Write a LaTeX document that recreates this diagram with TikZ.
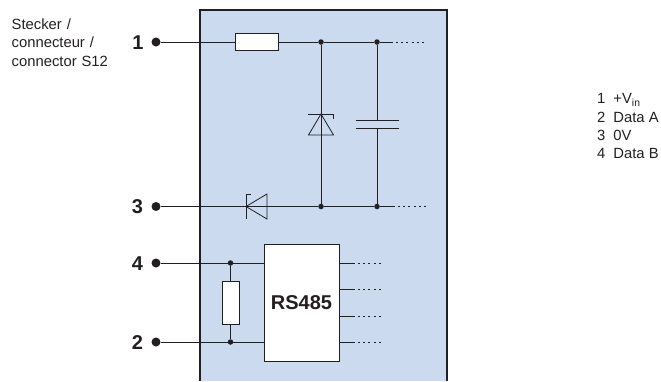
\documentclass[tikz,border=0pt]{standalone}
\usepackage{fontspec}
\setmainfont{Liberation Sans}
\definecolor{panel}{RGB}{203,218,239}
\definecolor{ink}{RGB}{35,31,32}
\tikzset{
  x=1pt,y=-1pt,
  wire/.style={draw=ink,line width=0.8pt},
  dotline/.style={draw=ink,line width=0.8pt,dash pattern=on 2pt off 3.2pt},
  pin/.style={circle,fill=ink,inner sep=0pt,minimum size=9pt},
  junction/.style={circle,fill=ink,inner sep=0pt,minimum size=5.5pt},
  pinlabel/.style={font=\bfseries\fontsize{20}{20}\selectfont,text=ink,anchor=center,inner sep=0pt},
  comp/.style={draw=ink,line width=0.9pt,fill=white,inner sep=0pt},
  note/.style={font=\fontsize{14.8}{18.3}\selectfont,text=ink,anchor=west,inner sep=0pt},
}
\begin{document}
\begin{tikzpicture}
\useasboundingbox (0,0) rectangle (661,381);
% panel
\fill[panel] (200,10) rectangle (447,381);
\draw[draw=ink,line width=1.4pt] (200,381) -- (200,10) -- (447,10) -- (447,381);
% labels
\node[note,text width=110pt,align=left,anchor=north west] (title) at (11.5,18.7) {Stecker /\\connecteur /\\connector S12};
\node[note] (n1) at (597,100) {1\hspace{8pt}+V\textsubscript{in}};
\node[note] (n2) at (597,117) {2\hspace{8pt}Data A};
\node[note] (n3) at (597,135) {3\hspace{8pt}0V};
\node[note] (n4) at (597,153) {4\hspace{8pt}Data B};
% terminals
\node[pin] (p1) at (156,42) {};
\node[pin] (p3) at (156,206.5) {};
\node[pin] (p4) at (156,263) {};
\node[pin] (p2) at (156,342) {};
\node[pinlabel] (l1) at (138,43) {1};
\node[pinlabel] (l3) at (137.5,207) {3};
\node[pinlabel] (l4) at (137.5,263.5) {4};
\node[pinlabel] (l2) at (137.5,342.5) {2};
% components
\node[comp,minimum width=43pt,minimum height=16.5pt] (r1) at (256.5,42) {};
\node[comp,minimum width=17pt,minimum height=43pt] (r2) at (230.5,302.5) {};
\node[comp,minimum width=75pt,minimum height=117pt,font=\bfseries\fontsize{20}{20}\selectfont,text=ink] (ic) at (301.5,302.5) {RS485};
\node[junction] (j1) at (321,42) {};
\node[junction] (j2) at (377,42) {};
\node[junction] (j3) at (321,206.5) {};
\node[junction] (j4) at (377,206.5) {};
\node[junction] (j5) at (230.5,263) {};
\node[junction] (j6) at (230.5,342) {};
\coordinate (e1) at (393,42);
\coordinate (e1b) at (425,42);
\coordinate (e3) at (395,206.5);
\coordinate (e3b) at (427,206.5);
\coordinate (icw4) at (264,263);
\coordinate (icw2) at (264,342);
\coordinate (cu) at (377,120.5);
\coordinate (cl) at (377,128);
% wires
\draw[wire] (p1) -- (r1);
\draw[wire] (r1) -- (j1) -- (j2) -- (e1);
\draw[dotline] (e1) ++(3,0) -- (e1b);
\draw[wire] (p3) -- (j3) -- (j4) -- (e3);
\draw[dotline] (e3) ++(3,0) -- (e3b);
\draw[wire] (j1) -- (j3);
\draw[wire] (j2) -- (cu);
\draw[wire] (cl) -- (j4);
\draw[wire] (356,120.5) -- (399,120.5);
\draw[wire] (356,128) -- (399,128);
% zener
\draw[wire,line join=miter] (321,114) -- (308.5,135) -- (333.5,135) -- cycle;
\draw[wire] (308,114) -- (333.5,114) -- (333.5,119);
% diode
\draw[wire,line join=miter] (246,206.5) -- (267,194) -- (267,219) -- cycle;
\draw[wire] (246,194) -- (246,219);
\draw[wire] (246,194) -- (251,194);
% RS485 side
\draw[wire] (p4) -- (j5) -- (icw4);
\draw[wire] (p2) -- (j6) -- (icw2);
\draw[wire] (j5) -- (r2);
\draw[wire] (r2) -- (j6);
\foreach \y/\n in {263/a,289.5/b,316/c,342/d}{
  \coordinate (o\n) at (339,\y);
  \coordinate (m\n) at (355,\y);
  \coordinate (t\n) at (381,\y);
  \draw[wire] (o\n) -- (m\n);
  \draw[dotline] (m\n) ++(3,0) -- (t\n);
}
\end{tikzpicture}
\end{document}
